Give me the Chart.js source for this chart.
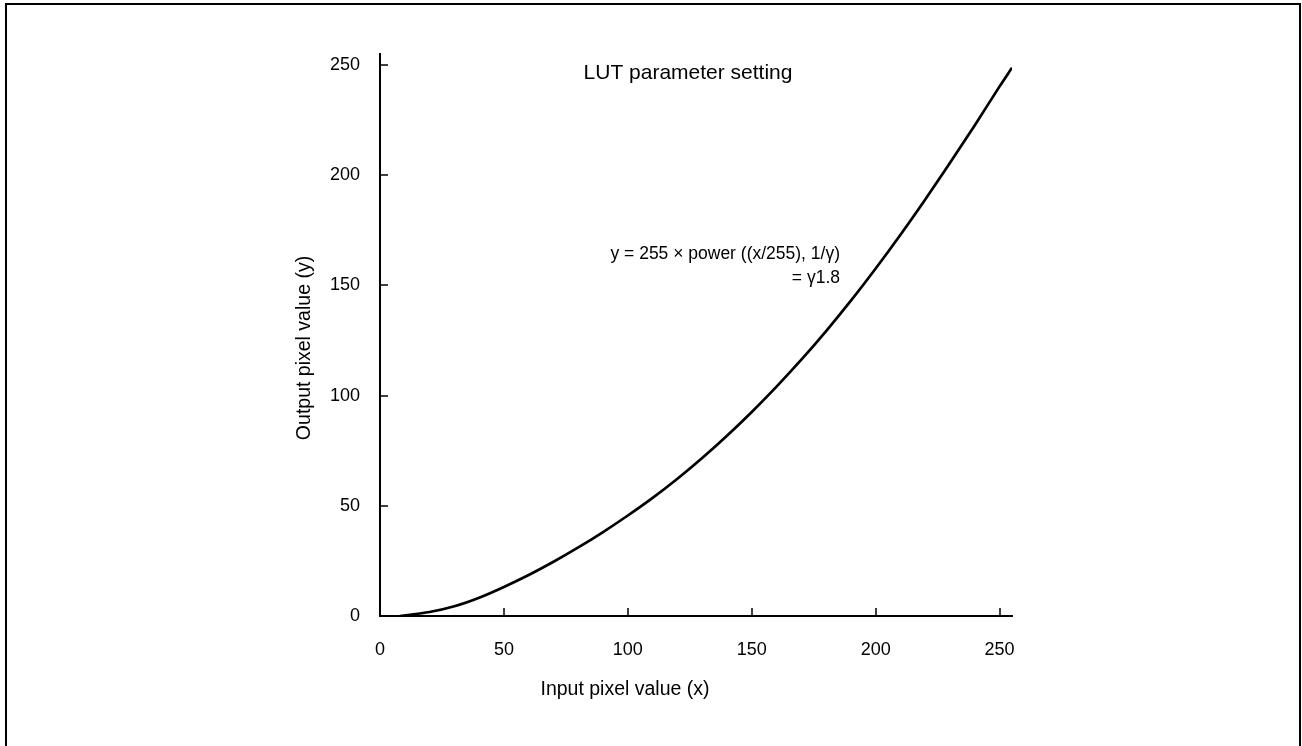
<!DOCTYPE html>
<html>
<head>
<meta charset="utf-8">
<script src="https://cdn.jsdelivr.net/npm/chart.js@4.4.1/dist/chart.umd.min.js"></script>
<style>
  html, body { margin: 0; padding: 0; background: #fff; }
  #wrap { width: 1302px; height: 746px; position: relative; }
</style>
</head>
<body>
<div id="wrap"><canvas id="lutChart"></canvas></div>
<script>
// values
const inputValues = [8, 20, 30, 40, 50, 60, 70, 80, 90, 100, 110, 120, 130, 140, 150, 160, 170, 180, 190, 200, 210, 220, 230, 240, 250, 255];
const outputValues = [0, 1.8, 4.4, 8.3, 13.2, 18.6, 24.6, 31.1, 38.1, 45.6, 53.6, 62.3, 71.7, 81.8, 92.6, 104.1, 116.3, 129.3, 143.1, 157.7, 173.0, 189.0, 205.6, 222.7, 240.3, 248.8];
const xTickValues = [0, 50, 100, 150, 200, 250];
const yTickValues = [0, 50, 100, 150, 200, 250];

const chartTitle = 'LUT parameter setting';
const xTitle = 'Input pixel value (x)';
const yTitle = 'Output pixel value (y)';
const formulaLines = ['y = 255 \u00d7 power ((x/255), 1/\u03b3)', '= \u03b31.8'];

const FONT = '"Liberation Sans", Arial, sans-serif';

// frame, inward ticks and text labels
const extrasPlugin = {
    id: 'extras',
    beforeDraw(chart) {
        const ctx = chart.ctx;
        ctx.save();
        ctx.fillStyle = '#fff';
        ctx.fillRect(0, 0, chart.width, chart.height);
        ctx.strokeStyle = '#000';
        ctx.lineWidth = 2;
        ctx.strokeRect(6, 4, 1294, 780);
        ctx.restore();
    },
    afterDraw(chart) {
        const ctx = chart.ctx;
        const x = chart.scales.x;
        const y = chart.scales.y;
        const area = chart.chartArea;
        ctx.save();
        ctx.strokeStyle = '#000';
        ctx.lineWidth = 1.5;
        ctx.beginPath();
        x.ticks.forEach(t => {
            if (t.value === 0) return;
            const px = Math.round(x.getPixelForValue(t.value));
            ctx.moveTo(px, area.bottom);
            ctx.lineTo(px, area.bottom - 8);
        });
        y.ticks.forEach(t => {
            if (t.value === 0) return;
            const py = Math.round(y.getPixelForValue(t.value));
            ctx.moveTo(area.left, py);
            ctx.lineTo(area.left + 8, py);
        });
        ctx.stroke();

        ctx.fillStyle = '#000';
        ctx.textBaseline = 'middle';
        ctx.textAlign = 'center';
        ctx.font = '21px ' + FONT;
        ctx.fillText(chartTitle, 688, 73);

        ctx.font = '19.5px ' + FONT;
        ctx.fillText(xTitle, 625, 690);
        ctx.save();
        ctx.translate(305, 348);
        ctx.rotate(-Math.PI / 2);
        ctx.fillText(yTitle, 0, 0);
        ctx.restore();

        ctx.font = '17.5px ' + FONT;
        ctx.textAlign = 'right';
        ctx.fillText(formulaLines[0], 840, 254);
        ctx.fillText(formulaLines[1], 840, 278);
        ctx.restore();
    }
};

const ctx = document.getElementById('lutChart').getContext('2d');
const lutChart = new Chart(ctx, {
    type: 'line',
    data: {
        datasets: [{
            label: 'LUT',
            data: inputValues.map((v, i) => ({ x: v, y: outputValues[i] })),
            borderColor: '#000',
            borderWidth: 2.7,
            pointRadius: 0,
            fill: false,
            cubicInterpolationMode: 'monotone'
        }]
    },
    options: {
        responsive: true,
        maintainAspectRatio: false,
        animation: false,
        layout: {
            padding: { top: 54, right: 290, bottom: 0, left: 0 }
        },
        plugins: {
            legend: { display: false },
            tooltip: { enabled: false }
        },
        scales: {
            x: {
                type: 'linear',
                min: 0,
                max: 255,
                afterFit(scale) { scale.height = 130; },
                afterBuildTicks(scale) { scale.ticks = xTickValues.map(v => ({ value: v })); },
                grid: { display: false, drawTicks: false },
                border: { display: true, color: '#000', width: 2 },
                ticks: {
                    color: '#000',
                    padding: 23,
                    font: { family: FONT, size: 18 }
                }
            },
            y: {
                type: 'linear',
                min: 0,
                max: 255,
                afterFit(scale) { scale.width = 380; },
                afterBuildTicks(scale) { scale.ticks = yTickValues.map(v => ({ value: v })); },
                grid: { display: false, drawTicks: false },
                border: { display: true, color: '#000', width: 2 },
                ticks: {
                    color: '#000',
                    padding: 20,
                    font: { family: FONT, size: 18 }
                }
            }
        }
    },
    plugins: [extrasPlugin]
});
</script>
</body>
</html>
